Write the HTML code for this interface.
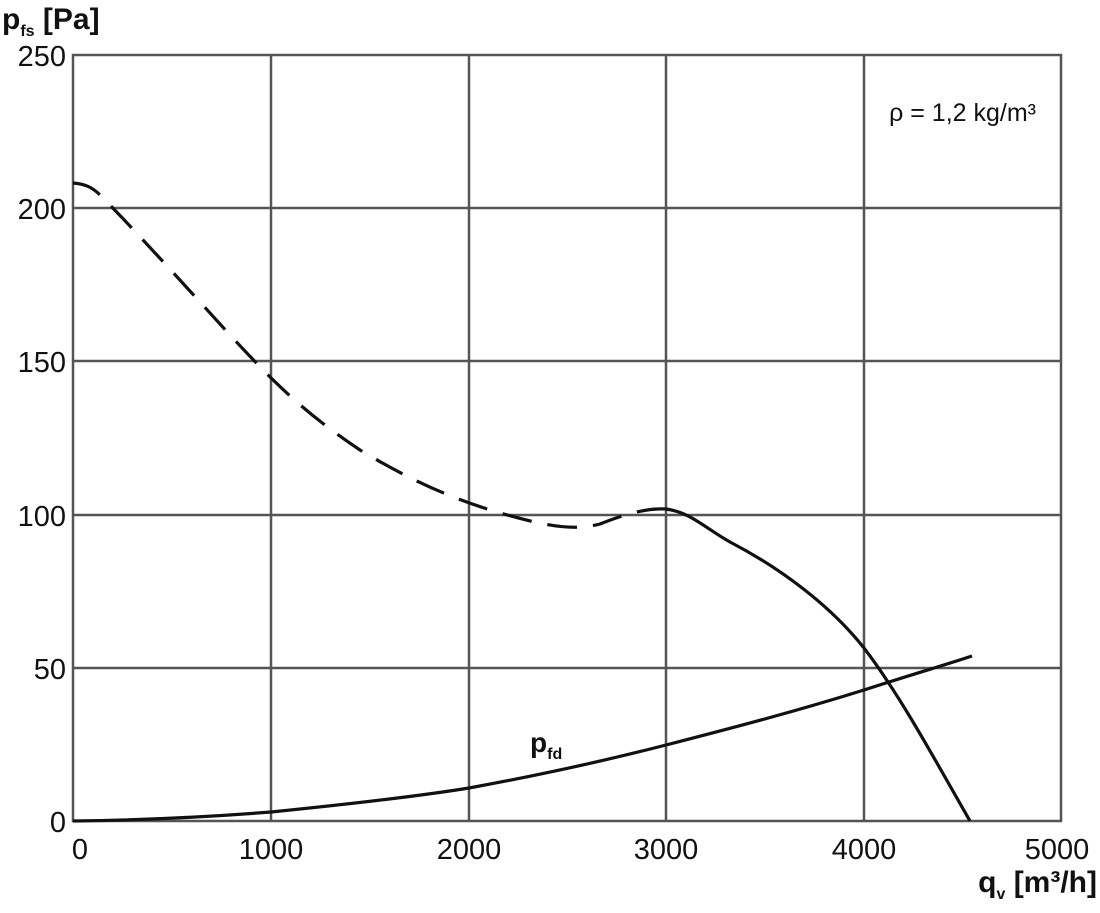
<!DOCTYPE html>
<html><head><meta charset="utf-8"><style>
body{margin:0;background:#fff;width:1100px;height:908px;overflow:hidden}
svg text{font-family:"Liberation Sans",sans-serif;fill:#111}
</style></head><body>
<svg width="1100" height="908" viewBox="0 0 1100 908">
<g stroke="#555" stroke-width="2.5" fill="none">
<rect x="73" y="55" width="988" height="766"/>
<line x1="271" y1="55" x2="271" y2="821"/><line x1="469" y1="55" x2="469" y2="821"/>
<line x1="666" y1="55" x2="666" y2="821"/><line x1="864" y1="55" x2="864" y2="821"/>
<line x1="73" y1="208" x2="1061" y2="208"/><line x1="73" y1="361" x2="1061" y2="361"/>
<line x1="73" y1="515" x2="1061" y2="515"/><line x1="73" y1="668" x2="1061" y2="668"/>
</g>
<g stroke="#111" stroke-width="3.2" fill="none">
<path d="M73,183 C85,184 92,187 100,195 C130,225 180,280 230,335 C270,378 300,410 360,450 C410,480 450,498 500,513 C540,524 570,532 600,524 C630,512 650,508 666,509" stroke-dasharray="30,16"/>
<path d="M666,509 C690,512 705,528 730,542 C780,568 830,605 864,648 C900,695 935,760 970,821"/>
<path d="M73,821 C150,820 220,816 271,812 C350,804 420,796 469,788 C540,775 600,762 666,745 C740,726 800,710 864,690 C910,675 945,665 972,656"/>
</g>
<g font-size="29" text-anchor="end">
<text x="66" y="66">250</text><text x="66" y="219">200</text><text x="66" y="372">150</text>
<text x="66" y="526">100</text><text x="66" y="679">50</text><text x="66" y="832">0</text>
</g>
<g font-size="29" text-anchor="middle">
<text x="80" y="859">0</text><text x="271" y="859">1000</text><text x="469" y="859">2000</text>
<text x="666" y="859">3000</text><text x="864" y="859">4000</text><text x="1057" y="859">5000</text>
</g>
<text x="2" y="29" font-size="30" font-weight="bold">p<tspan font-size="16" dy="7">fs</tspan><tspan dy="-7"> [Pa]</tspan></text>
<text x="1097" y="892" font-size="30" font-weight="bold" text-anchor="end">q<tspan font-size="16" dy="7">v</tspan><tspan dy="-7"> [m³/h]</tspan></text>
<text x="530" y="752" font-size="28" font-weight="bold">p<tspan font-size="16" dy="7">fd</tspan></text>
<text x="1036" y="121" font-size="25" text-anchor="end">ρ = 1,2 kg/m³</text>
</svg>
</body></html>
